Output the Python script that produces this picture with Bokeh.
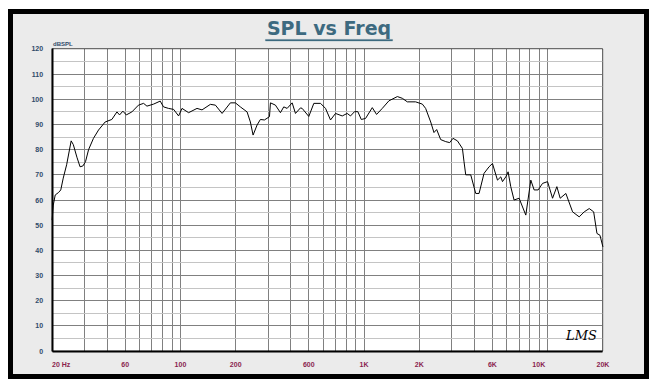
from bokeh.plotting import figure
from bokeh.models import FixedTicker, Label, BoxAnnotation
from bokeh.embed import file_html
from bokeh.resources import INLINE

# ---- data ----
freq_hz = [20, 20.3, 20.8, 21.7, 22.3, 23.0, 24.0, 25.4, 26.1, 27.3, 28.4, 29.4, 30.4, 31.6,
           33.6, 35.8, 38.9, 42.3, 45.1, 46.6, 48.6, 50.7, 54.4, 59.1, 63.0, 65.7, 71.4, 77.6,
           80.9, 86.1, 91.8, 97.7, 102, 110.8, 123.1, 131.1, 145.6, 155, 168.6, 187.1, 199.2,
           212, 230.7, 240.4, 248.7, 261.5, 272.6, 286.6, 305.4, 309.2, 329.1, 350.5, 365.3,
           381.2, 406, 423.2, 450.6, 460.3, 500.2, 532.7, 579.7, 616.9, 656.8, 699.4, 760.8,
           809.5, 844, 887.7, 925.3, 966, 1019, 1109, 1170, 1257, 1366, 1519, 1617, 1721, 1910,
           2078, 2165, 2307, 2404, 2487, 2615, 2785, 2928, 3052, 3226, 3434, 3504, 3580, 3812,
           4059, 4231, 4505, 4797, 5006, 5331, 5557, 5677, 5918, 6091, 6297, 6564, 6992, 7604,
           8098, 8441, 8876, 9381, 9990, 10636, 11227, 11703, 12569, 13673, 14856, 15822,
           16851, 17809, 18562, 19275, 20000]
spl_db = [52, 58, 62, 63, 64, 68.7, 74, 83.5, 82, 77, 73.2, 73.5, 75.2, 80,
          84.5, 87.8, 91, 92, 95, 93.8, 95.3, 93.8, 95, 97.7, 98.4, 97.3, 98.1, 99.3,
          97, 96.4, 96, 93.4, 96.4, 94.7, 96.4, 95.8, 98, 97.7, 94.4, 98.6, 98.6,
          97, 95, 91, 85.8, 89.8, 92, 91.8, 93.1, 98.6, 97.7, 94.7, 97,
          96.4, 98.6, 94.4, 96.6, 96.4, 93.2, 98.4, 98.4, 96.4, 91.8, 94.4, 93.4,
          94.4, 93.4, 95.1, 95.1, 92, 92.4, 96.7, 94, 96.4, 99.4, 101.1, 100.4, 99, 99,
          98.1, 96.4, 91, 86.8, 88, 84, 83.2, 82.8, 84.5, 83.5, 80.5, 75.2, 70, 70,
          62.6, 62.6, 70.6, 73.2, 74.5, 67.9, 69.2, 67.3, 69.2, 71.2, 65.3, 60, 60.7, 54,
          67.9, 64, 64, 66.6, 67.3, 60.7, 65.3, 60.7, 62.6, 55.3, 53.3, 55.3,
          56.6, 55.3, 46.7, 46, 41.4]

x_label_pos = [22.4, 50, 100, 200, 500, 1000, 2000, 5000, 8950, 20000]
x_label_txt = ["20 Hz", "60", "100", "200", "600", "1K", "2K", "6K", "10K", "20K"]
x_grid_pos = [20, 30, 40, 50, 60, 70, 80, 90, 100, 200, 300, 400, 500, 600, 700, 800, 900,
              1000, 2000, 3000, 4000, 5000, 6000, 7000, 8000, 9000, 10000, 20000]
y_ticks = [0, 10, 20, 30, 40, 50, 60, 70, 80, 90, 100, 110, 120]
y_minor = [5, 15, 25, 35, 45, 55, 65, 75, 85, 95, 105, 115]

F_MIN, F_MAX = 20, 20000
DB_MIN, DB_MAX = 0, 120

BG = "#ebebeb"
TITLE_C = "#3d6a80"
YLAB_C = "#2f4a6a"
XLAB_C = "#8a1f4f"
GRID_C = "#808080"
MINOR_C = "#c4c4c4"

# The frame is the black-bordered panel; the chart area sits inside it.
p = figure(width=656, height=379, x_axis_type="log",
           x_range=(11.87, 34550), y_range=(-10.13, 134.9),
           output_backend="svg", toolbar_location=None,
           min_border_left=10, min_border_right=10, min_border_top=11, min_border_bottom=3,
           background_fill_color=BG, border_fill_color="white")
p.title.text = ""
p.title.visible = False

p.outline_line_color = "black"
p.outline_line_width = 5
p.outline_line_join = "miter"

# white chart area
p.add_layout(BoxAnnotation(left=F_MIN, right=F_MAX, bottom=DB_MIN, top=DB_MAX,
                           fill_color="white", fill_alpha=1, line_color=None, level="image"))

# x axis
p.xaxis.fixed_location = DB_MIN
p.xaxis.bounds = (F_MIN, F_MAX)
p.xaxis.ticker = FixedTicker(ticks=x_label_pos)
p.xaxis.major_label_overrides = {v: t for v, t in zip(x_label_pos, x_label_txt)}
p.xaxis.major_tick_line_color = None
p.xaxis.minor_tick_line_color = None
p.xaxis.axis_line_color = "black"
p.xaxis.axis_line_width = 2
p.xaxis.major_label_text_color = XLAB_C
p.xaxis.major_label_text_font = "Liberation Sans"
p.xaxis.major_label_text_font_style = "bold"
p.xaxis.major_label_text_font_size = "7px"
p.xaxis.major_label_standoff = 4

# y axis
p.yaxis.fixed_location = F_MIN
p.yaxis.bounds = (DB_MIN, DB_MAX)
p.yaxis.ticker = FixedTicker(ticks=y_ticks, minor_ticks=y_minor)
p.yaxis.major_tick_line_color = None
p.yaxis.minor_tick_line_color = None
p.yaxis.axis_line_color = "black"
p.yaxis.axis_line_width = 2
p.yaxis.major_label_text_color = YLAB_C
p.yaxis.major_label_text_font = "Liberation Sans"
p.yaxis.major_label_text_font_style = "bold"
p.yaxis.major_label_text_font_size = "7px"
p.yaxis.major_label_standoff = 3

# grids, limited to the chart area
xg = p.xgrid[0]
yg = p.ygrid[0]
if hasattr(xg, "cross_bounds"):
    xg.ticker = FixedTicker(ticks=x_grid_pos)
    xg.bounds = (F_MIN, F_MAX)
    xg.cross_bounds = (DB_MIN, DB_MAX)
    xg.grid_line_color = GRID_C
    xg.grid_line_width = 1
    yg.bounds = (DB_MIN, DB_MAX)
    yg.cross_bounds = (F_MIN, F_MAX)
    yg.grid_line_color = GRID_C
    yg.grid_line_width = 1
    yg.minor_grid_line_color = MINOR_C
    yg.minor_grid_line_width = 1
else:
    xg.visible = False
    yg.visible = False
    p.segment(x0=x_grid_pos, x1=x_grid_pos, y0=[DB_MIN] * len(x_grid_pos),
              y1=[DB_MAX] * len(x_grid_pos), line_color=GRID_C, line_width=1, level="underlay")
    p.segment(x0=[F_MIN] * len(y_minor), x1=[F_MAX] * len(y_minor), y0=y_minor, y1=y_minor,
              line_color=MINOR_C, line_width=1, level="underlay")
    p.segment(x0=[F_MIN] * len(y_ticks), x1=[F_MAX] * len(y_ticks), y0=y_ticks, y1=y_ticks,
              line_color=GRID_C, line_width=1, level="underlay")

# chart-area outline (top / right edges)
p.add_layout(BoxAnnotation(left=F_MIN, right=F_MAX, bottom=DB_MIN, top=DB_MAX,
                           fill_color=None, line_color="black", line_width=1))

# curve
p.line(freq_hz, spl_db, line_color="black", line_width=1)

# title with underline
p.add_layout(Label(x=644.6, y=128.3, text="SPL vs Freq", text_font="DejaVu Sans",
                   text_font_size="19px", text_font_style="bold", text_color=TITLE_C,
                   text_align="center", text_baseline="alphabetic"))
p.add_layout(BoxAnnotation(left=290.4, right=1430.6, bottom=123.2, top=123.8,
                           fill_color=TITLE_C, fill_alpha=1, line_color=TITLE_C, line_width=1))

# unit label
p.add_layout(Label(x=F_MIN, y=DB_MAX, x_offset=1, y_offset=2, text="dBSPL",
                   text_font="Liberation Sans", text_font_size="6px", text_font_style="bold",
                   text_color=YLAB_C, text_baseline="bottom"))
# logo
p.add_layout(Label(x=12600, y=3, text="LMS", text_font="DejaVu Serif", text_font_size="13px",
                   text_font_style="italic", text_color="black", text_baseline="bottom"))

open("out.html", "w").write(file_html(p, INLINE))
